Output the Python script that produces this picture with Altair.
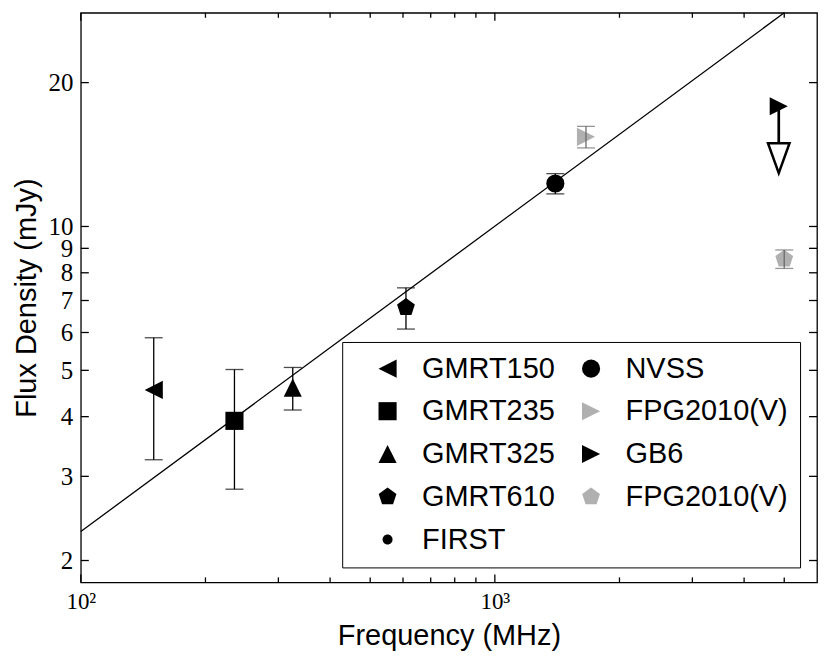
import altair as alt
import pandas as pd

# ---------------- data ----------------
sources = ["GMRT150", "GMRT235", "GMRT325", "GMRT610", "FIRST", "NVSS",
           "FPG2010(V)", "GB6", "FPG2010(V)#2"]
freq_mhz = [150, 235, 325, 610, 1400, 1400, 1660, 4850, 5000]
flux_mjy = [4.55, 3.92, 4.6, 6.77, 12.3, 12.3, 15.4, 17.85, 8.55]
flux_err = [1.3, 1.1, 0.47, 0.67, None, 0.6, 0.8, None, 0.38]

# GB6 upper limit arrow (shaft end and open head centre)
gb6_freq = [4850]
gb6_flux = [17.85]
gb6_shaft_end = [15.0]
gb6_head = [13.9]

# power-law fit line
fit_freq = [100, 5000]
fit_flux = [2.3, 28.0]

# tick values
x_major_ticks = [100, 1000]
x_minor_ticks = [200, 300, 400, 500, 600, 700, 800, 900, 2000, 3000, 4000, 5000]
y_ticks = [2, 3, 4, 5, 6, 7, 8, 9, 10, 20]

# ---------------- styles ----------------
TRI_LEFT = "M-1,0L1,-1L1,1Z"
TRI_RIGHT = "M1,0L-1,-1L-1,1Z"
TRI_UP = "M0,-1L1,1L-1,1Z"
PENTAGON = "M0,-1.03L0.98,-0.318L0.606,0.833L-0.606,0.833L-0.98,-0.318Z"
SMALL_DOT = "M0.55,0A0.55,0.55,0,1,1,-0.55,0A0.55,0.55,0,1,1,0.55,0Z"
HEAD_DOWN = "M-0.72,-1L0.72,-1L0,1Z"
GRAY = "#b0b0b0"

shape_map = {"GMRT150": TRI_LEFT, "GMRT235": "square", "GMRT325": TRI_UP,
             "GMRT610": PENTAGON, "FIRST": SMALL_DOT, "NVSS": "circle",
             "FPG2010(V)": TRI_RIGHT, "GB6": TRI_RIGHT, "FPG2010(V)#2": PENTAGON}
color_map = {s: (GRAY if s.startswith("FPG") else "#000000") for s in sources}

W, H = 738, 571
MSIZE = 330

df = pd.DataFrame({"src": sources, "freq": freq_mhz, "flux": flux_mjy, "err": flux_err})
err_df = df.dropna(subset=["err"]).copy()
err_df["lo"] = err_df["flux"] - err_df["err"]
err_df["hi"] = err_df["flux"] + err_df["err"]
err_black = err_df[~err_df["src"].str.startswith("FPG")]
err_gray = err_df[err_df["src"].str.startswith("FPG")]

fit_df = pd.DataFrame({"freq": fit_freq, "flux": fit_flux})
gb6_df = pd.DataFrame({"freq": gb6_freq, "flux": gb6_flux, "end": gb6_shaft_end, "head": gb6_head})
xmaj_df = pd.DataFrame({"v": x_major_ticks})
xmin_df = pd.DataFrame({"v": x_minor_ticks})
yt_df = pd.DataFrame({"v": y_ticks})

xscale = alt.Scale(type="log", domain=[100, 6000], nice=False)
yscale = alt.Scale(type="log", domain=[1.8, 28], nice=False)

xaxis = alt.Axis(
    title="Frequency (MHz)", values=x_major_ticks,
    labelExpr="datum.value == 100 ? '10\u00b2' : '10\u00b3'",
    labelFont="Liberation Serif", labelFontSize=23, labelPadding=26,
    labelBaseline="alphabetic", labelFlush=False, labelOverlap=False,
    titleFont="Liberation Sans", titleFontSize=29, titleFontWeight="normal",
    titleX=W / 2, titleY=62, titleAlign="center", titleBaseline="alphabetic",
)
yaxis = alt.Axis(
    title="Flux Density (mJy)", values=y_ticks, format="d",
    labelFont="Liberation Serif", labelFontSize=25, labelPadding=8,
    labelBaseline="middle", labelFlush=False, labelOverlap=False,
    titleFont="Liberation Sans", titleFontSize=29, titleFontWeight="normal",
    titleX=-54, titleY=H / 2, titleAngle=270, titleAlign="center", titleBaseline="middle",
)


def X(field):
    return alt.X(field, type="quantitative", scale=xscale, axis=xaxis)


def Y(field):
    return alt.Y(field, type="quantitative", scale=yscale, axis=yaxis)


legend = alt.Legend(
    title=None, orient="none", legendX=262, legendY=330, columns=2, padding=12,
    strokeColor="black", labelFont="Liberation Sans", labelFontSize=29,
    labelColor="black", labelLimit=400, symbolOffset=19, labelOffset=20,
    rowPadding=12.9, columnPadding=2, symbolStrokeWidth=0, symbolSize=MSIZE,
    labelExpr="replace(datum.label, '#2', '')",
)

fit = alt.Chart(fit_df).mark_line(color="black", strokeWidth=1.3).encode(x=X("freq"), y=Y("flux"))

points = alt.Chart(df).mark_point(filled=True, opacity=1, strokeWidth=0, size=MSIZE).encode(
    x=X("freq"), y=Y("flux"),
    color=alt.Color("src:N", scale=alt.Scale(domain=sources, range=[color_map[s] for s in sources]), legend=legend),
    shape=alt.Shape("src:N", scale=alt.Scale(domain=sources, range=[shape_map[s] for s in sources]), legend=legend),
)


def errbars(d, col):
    bars = alt.Chart(d).mark_rule(color=col, strokeWidth=1.3).encode(x=X("freq"), y=Y("lo"), y2="hi")
    cap_lo = alt.Chart(d).mark_tick(color=col, orient="horizontal", size=18, thickness=1.3).encode(x=X("freq"), y=Y("lo"))
    cap_hi = alt.Chart(d).mark_tick(color=col, orient="horizontal", size=18, thickness=1.3).encode(x=X("freq"), y=Y("hi"))
    return [bars, cap_lo, cap_hi]


shaft = alt.Chart(gb6_df).mark_rule(color="black", strokeWidth=2.7).encode(x=X("freq"), y=Y("flux"), y2="end")
head = alt.Chart(gb6_df).mark_point(shape=HEAD_DOWN, size=900, filled=True, fill="white",
                                     stroke="black", strokeWidth=2.5, opacity=1).encode(x=X("freq"), y=Y("head"))

# inward ticks on all four sides
tb = alt.Chart(xmaj_df).mark_rule(color="black", strokeWidth=1.3).encode(x=X("v"), y=alt.value(H), y2=alt.value(H - 8))
tt = alt.Chart(xmaj_df).mark_rule(color="black", strokeWidth=1.3).encode(x=X("v"), y=alt.value(0), y2=alt.value(8))
mb = alt.Chart(xmin_df).mark_rule(color="black", strokeWidth=1.3).encode(x=X("v"), y=alt.value(H), y2=alt.value(H - 5))
mt = alt.Chart(xmin_df).mark_rule(color="black", strokeWidth=1.3).encode(x=X("v"), y=alt.value(0), y2=alt.value(5))
yl = alt.Chart(yt_df).mark_rule(color="black", strokeWidth=1.3).encode(y=Y("v"), x=alt.value(0), x2=alt.value(8))
yr = alt.Chart(yt_df).mark_rule(color="black", strokeWidth=1.3).encode(y=Y("v"), x=alt.value(W), x2=alt.value(W - 8))

layers = [fit, shaft, points] + errbars(err_black, "black") + errbars(err_gray, "#6a6a6a") + [head, tb, tt, mb, mt, yl, yr]

chart = alt.layer(*layers).properties(
    width=W, height=H, autosize=alt.AutoSizeParams(type="none"),
    padding={"left": 73, "top": 4, "right": 6, "bottom": 70},
    background="white",
).configure_view(stroke="black", strokeWidth=1.3).configure_axis(
    grid=False, domain=False, ticks=False, tickSize=0, labelColor="black", titleColor="black"
)

chart.save("out.html", embed_options={"renderer": "svg", "actions": False})
